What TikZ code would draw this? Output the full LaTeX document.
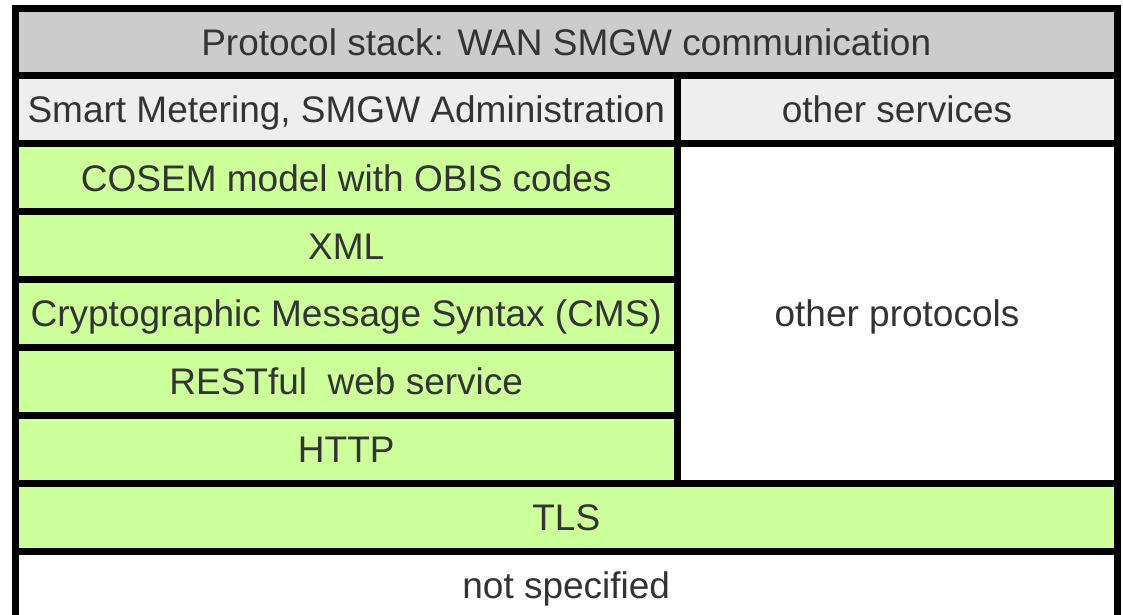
\documentclass[tikz,border=0pt]{standalone}
\usepackage{fontspec}
\setmainfont{Liberation Sans}
\definecolor{txt}{HTML}{333333}
\definecolor{headgray}{HTML}{CCCCCC}
\definecolor{svcgray}{HTML}{EEEEEE}
\definecolor{layergreen}{HTML}{CCFF99}
\begin{document}
\begin{tikzpicture}[x=0.75pt,y=-0.75pt,
  cell/.style={draw=black, line width=5.25pt, rectangle, inner sep=0pt, outer sep=0pt,
    text=txt, font=\fontsize{27.75}{32}\selectfont, text height=20.5pt, text depth=0pt},
  leftcell/.style={cell, minimum width=496.125pt},
  rightcell/.style={cell, minimum width=330pt},
  fullcell/.style={cell, minimum width=826.125pt},
  layer/.style={leftcell, fill=layergreen, minimum height=50.925pt}]
\useasboundingbox (0,0) rectangle (1123,614);
% heading
\node[fullcell, fill=headgray, minimum height=50.25pt] (title) at (566.25,41.5) {Protocol stack: WAN SMGW communication};
% services
\node[leftcell, fill=svcgray, minimum height=51.375pt] (smgw) at (346.25,109.25) {Smart Metering, SMGW Administration};
\node[rightcell, fill=svcgray, minimum height=51.375pt] (othsvc) at (897,109.25) {other services};
% specified layers
\node[layer] (cosem) at (346.25,177.45) {COSEM model with OBIS codes};
\node[layer] (xml) at (346.25,245.35) {XML};
\node[layer] (cms) at (346.25,313.25) {Cryptographic Message Syntax (CMS)};
\node[layer] (rest) at (346.25,381.15) {RESTful~ web service};
\node[layer] (http) at (346.25,449.05) {HTTP};
\node[rightcell, fill=white, minimum height=254.625pt] (othproto) at (897,313.25) {other protocols};
% transport
\node[fullcell, fill=layergreen, minimum height=51pt] (tls) at (566.25,517) {TLS};
\node[fullcell, fill=white, minimum height=51pt] (lower) at (566.25,585) {not specified};
\end{tikzpicture}
\end{document}
